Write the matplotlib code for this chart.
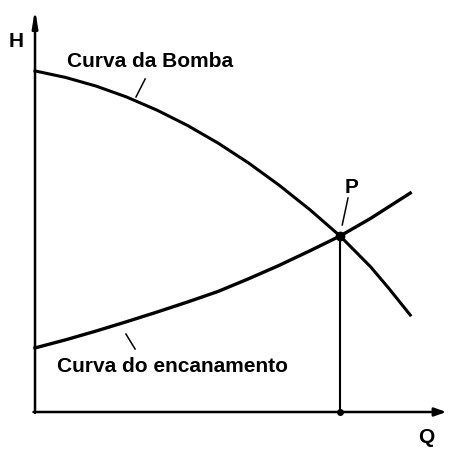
import matplotlib.pyplot as plt

# Pump head curve and system (pipe) curve, arbitrary units
q_pump = [0, 1, 2, 3, 4, 5, 6, 7, 8, 9, 10, 11, 11.6, 12.3]
h_pump = [19.38, 19.01, 18.52, 17.90, 17.15, 16.28, 15.28, 14.15,
          12.89, 11.51, 10.0, 8.25, 7.02, 5.51]

q_pipe = [0, 1, 2, 3, 4, 5, 6, 7, 8, 9, 10, 11, 12.3]
h_pipe = [3.64, 4.1, 4.6, 5.13, 5.68, 6.25, 6.85, 7.57, 8.33, 9.15,
          10.0, 11.0, 12.44]

# operating point
q_op = 10.0
h_op = 10.0

plt.rcParams['font.family'] = ['Liberation Sans', 'DejaVu Sans']

fig = plt.figure(figsize=(4.49, 4.5), dpi=100)
ax = fig.add_axes([0, 0, 1, 1])
ax.set_xlim(-1.148, 13.57)
ax.set_ylim(-2.159, 23.41)
ax.axis('off')

# axes with arrow heads
ax.annotate('', xy=(0, 22.9), xytext=(0, -0.05),
            arrowprops=dict(arrowstyle='-|>,head_width=0.16,head_length=1.0',
                            color='black', lw=1.8, shrinkA=0, shrinkB=0))
ax.annotate('', xy=(13.48, 0), xytext=(-0.05, 0),
            arrowprops=dict(arrowstyle='-|>,head_width=0.25,head_length=0.7',
                            color='black', lw=1.8, shrinkA=0, shrinkB=0))

ax.plot(q_pump, h_pump, color='black', lw=2.2, solid_joinstyle='round')
ax.plot(q_pipe, h_pipe, color='black', lw=2.4, solid_joinstyle='round')

# drop line from the operating point
ax.plot([q_op, q_op], [h_op, 0], color='black', lw=1.5)
ax.plot([q_op], [h_op], 'o', color='black', ms=6)
ax.plot([q_op], [0], 'o', color='black', ms=4)

# leader lines
ax.plot([3.61, 3.31], [18.92, 17.90], color='black', lw=1.1)
ax.plot([2.98, 3.28], [4.43, 3.58], color='black', lw=1.1)
ax.plot([10.26, 10.07], [12.16, 10.63], color='black', lw=1.1)

txt = dict(va='baseline', fontweight='bold', color='black', fontsize=15)
ax.text(-0.623, 20.74, 'H', ha='center', **txt)
ax.text(1.038, 19.62, 'Curva da Bomba', ha='left', **txt)
ax.text(0.72, 2.27, 'Curva do encanamento', ha='left', **txt)
ax.text(10.36, 12.44, 'P', ha='center', **txt)
ax.text(12.84, -1.76, 'Q', ha='center', **txt)

fig.savefig('out.png', dpi=100)
